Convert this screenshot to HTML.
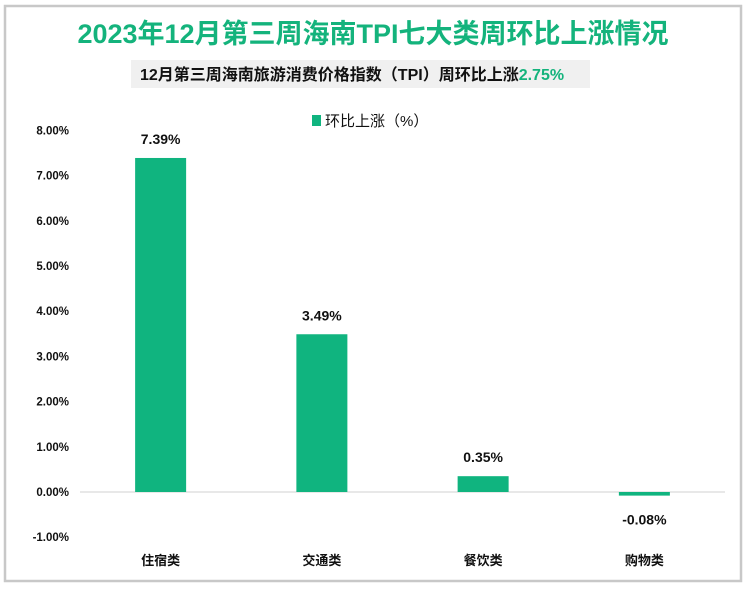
<!DOCTYPE html>
<html><head><meta charset="utf-8"><style>
body{margin:0;background:#fff;}
svg text{font-family:"Liberation Sans","Noto Sans CJK SC",sans-serif;}
</style></head><body>
<svg width="746" height="586" xmlns="http://www.w3.org/2000/svg" id="chart">
<rect x="5" y="6" width="736" height="575" fill="#fff" stroke="#c8c8c8" stroke-width="2.5"/>
<text x="373" y="43" text-anchor="middle" font-size="27" font-weight="bold" fill="#14b37c">2023年12月第三周海南TPI七大类周环比上涨情况</text>
<rect x="131" y="60" width="459" height="28" fill="#f0f0f0"/>
<text x="140" y="80" font-size="16" font-weight="bold" fill="#111">12月第三周海南旅游消费价格指数（TPI）周环比上涨<tspan fill="#14b37c">2.75%</tspan></text>
<rect x="312" y="115" width="9" height="11" fill="#10b47f"/>
<text x="325" y="126" font-size="15" fill="#111">环比上涨（%）</text>
<g id="axes"></g><g id="bars"></g>
</svg>
<script>
const categories=["住宿类","交通类","餐饮类","购物类"];
const values=[7.39,3.49,0.35,-0.08];
const ticks=[8,7,6,5,4,3,2,1,0,-1];
const svg=document.getElementById('chart'),ax=document.getElementById('axes'),bg=document.getElementById('bars');
const NS="http://www.w3.org/2000/svg";
const x0=80,x1=725,y0=492,ppu=45.2;
const y=v=>y0-v*ppu;
const bw=(x1-x0)/categories.length;
function mk(t,a,p){const e=document.createElementNS(NS,t);for(const k in a)e.setAttribute(k,a[k]);p.appendChild(e);return e;}
ticks.forEach(t=>{
 const e=mk('text',{x:69,y:y(t)+4,'text-anchor':'end','font-size':11.5,'font-weight':'bold',fill:'#111'},ax);
 e.textContent=t.toFixed(2)+'%';
 
 
});
const base=mk('line',{x1:x0,x2:x1,y1:y0,y2:y0,stroke:'#d0d0d0','stroke-width':1},ax);


categories.forEach((c,i)=>{
 const cx=x0+bw*(i+0.5),v=values[i];
 const top=Math.min(y(v),y0),h=Math.max(Math.abs(y(v)-y0),1);
 const r=mk('rect',{x:cx-25.5,y:top,width:51,height:h,fill:'#10b47f'},bg);
 
 
 const l=mk('text',{x:cx,y:v>=0?y(v)-14:y(v)+29,'text-anchor':'middle','font-size':14,'font-weight':'bold',fill:'#111'},bg);
 l.textContent=v.toFixed(2)+'%';
 
 
 const cl=mk('text',{x:cx,y:565,'text-anchor':'middle','font-size':13,'font-weight':'bold',fill:'#111'},ax);
 cl.textContent=c;
 
 
});
</script>
</body></html>
